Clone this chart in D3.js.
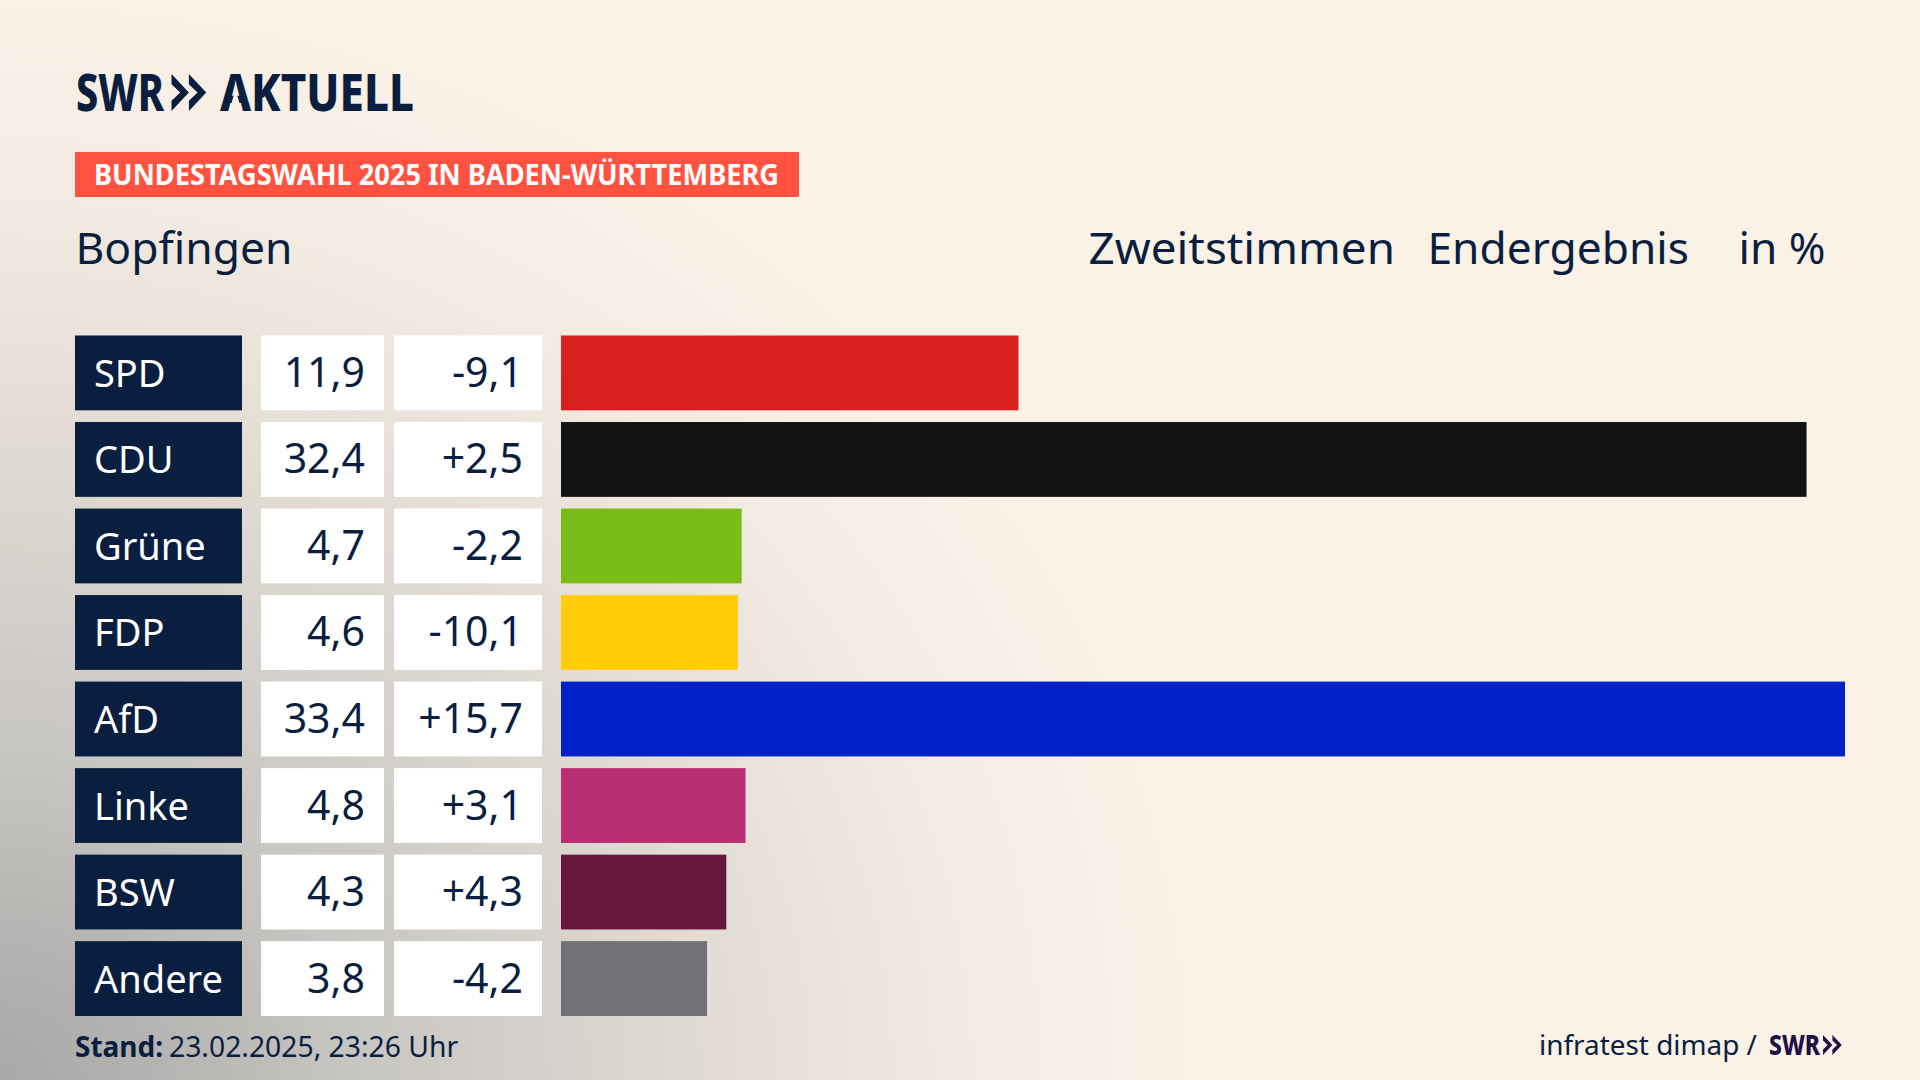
<!DOCTYPE html>
<html lang="de">
<head>
<meta charset="utf-8">
<title>Bopfingen Zweitstimmen</title>
<script src="https://cdn.jsdelivr.net/npm/d3@7"></script>
<style>
  html, body { margin: 0; padding: 0; background: #faf1e7; }
  svg { display: block; }
  text { font-family: "Noto Sans", "Open Sans", sans-serif; }
</style>
</head>
<body>
<div id="chart"></div>
<script>
// Werte
const parties = ['SPD', 'CDU', 'Grüne', 'FDP', 'AfD', 'Linke', 'BSW', 'Andere']
const shares = [11.9, 32.4, 4.7, 4.6, 33.4, 4.8, 4.3, 3.8]
const changes = [-9.1, 2.5, -2.2, -10.1, 15.7, 3.1, 4.3, -4.2]
const partyColors = ['#d9201f', '#121212', '#7abd18', '#ffcc07', '#0021c7', '#ba2f73', '#66183d', '#717275']

const navy = '#0a1f3f'
const width = 1920
const height = 1080

const locale = d3.formatLocale({ decimal: ',', thousands: '.', grouping: [3], currency: ['', ' €'], minus: '-' })
const fmtShare = locale.format('.1f')
const fmtChange = locale.format('+.1f')

const svg = d3.select('#chart').append('svg')
  .attr('width', width)
  .attr('height', height)
  .attr('viewBox', `0 0 ${width} ${height}`)

// Hintergrund
const defs = svg.append('defs')
const bgGrad = defs.append('radialGradient')
  .attr('id', 'bg')
  .attr('gradientUnits', 'userSpaceOnUse')
  .attr('cx', 0).attr('cy', 0).attr('r', 1)
  .attr('gradientTransform', `translate(0 ${height}) scale(1250 1130)`)
bgGrad.selectAll('stop')
  .data([[0, '#a8a8a8'], [0.12, '#b4b3b1'], [0.3, '#c9c7c3'], [0.47, '#d8d3cd'], [0.62, '#e6dfd8'], [0.78, '#f3ebe2'], [0.95, '#faf1e7']])
  .join('stop')
  .attr('offset', d => d[0])
  .attr('stop-color', d => d[1])

svg.append('rect').attr('width', width).attr('height', height).attr('fill', '#faf1e7')
svg.append('rect').attr('width', width).attr('height', height).attr('fill', 'url(#bg)')

// Logo
const chevrons = (g, x, y, h, fill) => {
  const w = h * 0.47
  const path = d3.path()
  ;[0, w].forEach(dx => {
    path.moveTo(x + dx, y)
    path.lineTo(x + dx + w, y + h / 2)
    path.lineTo(x + dx, y + h)
    path.lineTo(x + dx, y + h * 0.72)
    path.lineTo(x + dx + w * 0.5, y + h / 2)
    path.lineTo(x + dx, y + h * 0.28)
    path.closePath()
  })
  g.append('path').attr('d', path.toString()).attr('fill', fill)
}

const logo = svg.append('g').attr('class', 'logo')
logo.append('text')
  .attr('x', 76).attr('y', 110.5)
  .attr('textLength', 88).attr('lengthAdjust', 'spacingAndGlyphs')
  .style('font-weight', 800).style('font-size', '52px')
  .attr('fill', navy)
  .text('SWR')
chevrons(logo, 171.5, 74, 37, navy)
logo.append('text')
  .attr('x', 220).attr('y', 110.5)
  .attr('textLength', 194).attr('lengthAdjust', 'spacingAndGlyphs')
  .style('font-weight', 800).style('font-size', '52px')
  .attr('fill', navy)
  .text('AKTUELL')
// Querstrich im A der Wortmarke abdecken
logo.append('polygon')
  .attr('points', '235.5,90 229,111 242,111')
  .attr('fill', '#f9f0e6')

// Kopfzeile
svg.append('rect').attr('x', 75).attr('y', 152).attr('width', 724).attr('height', 45).attr('fill', '#ff5240')
svg.append('text')
  .attr('x', 94).attr('y', 185)
  .attr('textLength', 685).attr('lengthAdjust', 'spacingAndGlyphs')
  .style('font-weight', 700).style('font-size', '28px')
  .attr('fill', '#fff')
  .text('BUNDESTAGSWAHL 2025 IN BADEN-WÜRTTEMBERG')

const headers = [
  { label: 'Bopfingen', x: 75.5, w: 217 },
  { label: 'Zweitstimmen', x: 1088.5, w: 306.5 },
  { label: 'Endergebnis', x: 1427.5, w: 261.5 },
  { label: 'in %', x: 1738.5, w: 87 }
]
svg.selectAll('text.header')
  .data(headers)
  .join('text')
  .attr('class', 'header')
  .attr('x', d => d.x).attr('y', 264)
  .attr('textLength', d => d.w).attr('lengthAdjust', 'spacingAndGlyphs')
  .style('font-size', '43px')
  .attr('fill', navy)
  .text(d => d.label)

// Skalen
const y = d3.scaleBand().domain(parties).range([335.5, 1016]).paddingInner(0.135)
const x = d3.scaleLinear().domain([0, d3.max(shares)]).range([561, 1845])

const rows = svg.selectAll('g.row')
  .data(parties.map((p, i) => ({ party: p, share: shares[i], change: changes[i], color: partyColors[i] })))
  .join('g')
  .attr('class', 'row')
  .attr('transform', d => `translate(0 ${y(d.party)})`)

const band = y.bandwidth()
const textY = band / 2 + 14

rows.append('rect').attr('x', 75).attr('width', 167).attr('height', band).attr('fill', navy)
rows.append('rect').attr('x', 261).attr('width', 123).attr('height', band).attr('fill', '#fff')
rows.append('rect').attr('x', 394).attr('width', 148).attr('height', band).attr('fill', '#fff')
rows.append('rect')
  .attr('x', x(0))
  .attr('width', d => x(d.share) - x(0))
  .attr('height', band)
  .attr('fill', d => d.color)

rows.append('text')
  .attr('x', 94).attr('y', textY)
  .style('font-size', '38px')
  .attr('fill', '#fff')
  .text(d => d.party)
rows.append('text')
  .attr('x', 365).attr('y', textY)
  .attr('text-anchor', 'end')
  .style('font-size', '41px')
  .attr('fill', navy)
  .text(d => fmtShare(d.share))
rows.append('text')
  .attr('x', 523).attr('y', textY)
  .attr('text-anchor', 'end')
  .style('font-size', '41px')
  .attr('fill', navy)
  .text(d => fmtChange(d.change))

// Fußzeile
const stand = svg.append('text')
  .attr('x', 75).attr('y', 1057)
  .attr('fill', navy)
stand.append('tspan').style('font-weight', 700).style('font-size', '28px').text('Stand:')
stand.append('tspan').attr('x', 169).style('font-size', '28.3px').text('23.02.2025, 23:26 Uhr')

svg.append('text')
  .attr('x', 1539).attr('y', 1055)
  .attr('textLength', 218).attr('lengthAdjust', 'spacingAndGlyphs')
  .style('font-size', '28px')
  .attr('fill', navy)
  .text('infratest dimap /')

const srcLogo = svg.append('g')
srcLogo.append('text')
  .attr('x', 1769).attr('y', 1055)
  .attr('textLength', 51).attr('lengthAdjust', 'spacingAndGlyphs')
  .style('font-weight', 800).style('font-size', '28px')
  .attr('fill', '#1f0f45')
  .text('SWR')
chevrons(srcLogo, 1823, 1035, 20, '#1f0f45')
</script>
</body>
</html>
